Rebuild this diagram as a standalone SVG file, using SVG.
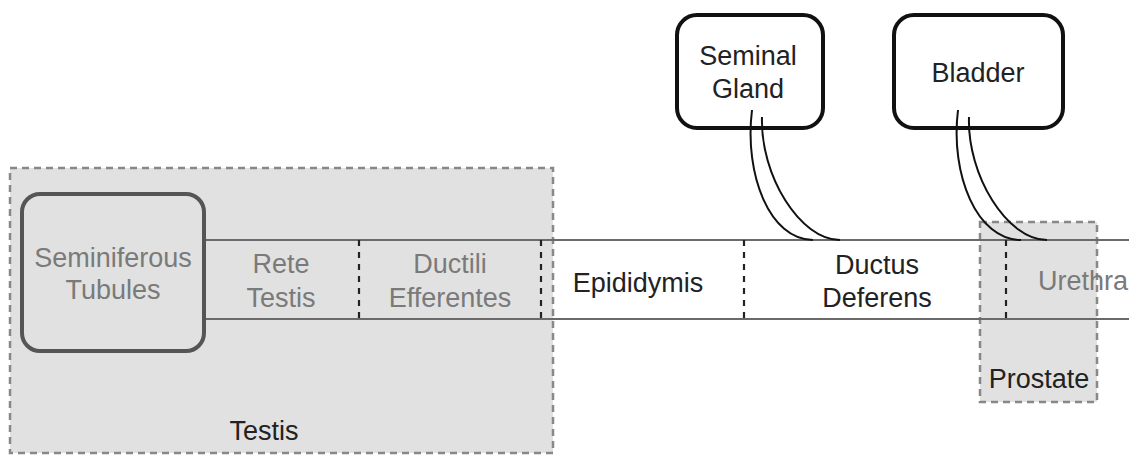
<svg xmlns="http://www.w3.org/2000/svg" width="1129" height="457" viewBox="0 0 1129 457">
<style>
text{font-family:"Liberation Sans",Arial,sans-serif;font-size:27px;text-anchor:middle}
.g{fill:#7a7a7a}
.k{fill:#222}
.region{fill:#e1e1e1;stroke:#888;stroke-width:2.5;stroke-dasharray:7 5}
.tube{stroke:#6a6a6a;stroke-width:2.2;fill:none}
.div{stroke:#222;stroke-width:2.2;stroke-dasharray:6 6;fill:none}
.duct{stroke:#111;stroke-width:2;fill:none}
.box{fill:#fff;stroke:#111;stroke-width:4}
</style>
<rect width="1129" height="457" fill="#fff"/>
<g id="testis">
<rect class="region" x="10" y="168" width="543" height="285"/>
<text class="k" x="264" y="440">Testis</text>
</g>
<g id="prostate">
<rect class="region" x="980" y="222" width="117" height="180"/>
<text class="k" x="1039" y="388">Prostate</text>
</g>
<g id="seminiferous-tubules">
<rect x="22" y="194" width="182" height="157" rx="18" fill="none" stroke="#555" stroke-width="4"/>
<text class="g" x="113" y="267">Seminiferous</text>
<text class="g" x="113" y="299">Tubules</text>
</g>
<g id="rete-testis">
<text class="g" x="281" y="273">Rete</text>
<text class="g" x="281" y="307">Testis</text>
</g>
<g id="ductili-efferentes">
<text class="g" x="450" y="273">Ductili</text>
<text class="g" x="450" y="307">Efferentes</text>
</g>
<g id="epididymis">
<text class="k" x="638" y="292">Epididymis</text>
</g>
<g id="ductus-deferens">
<text class="k" x="877" y="274">Ductus</text>
<text class="k" x="877" y="307">Deferens</text>
</g>
<g id="urethra">
<text class="g" x="1083" y="290">Urethra</text>
</g>
<g id="seminal-gland">
<rect class="box" x="677" y="15" width="146" height="113" rx="20"/>
<text class="k" x="748" y="65">Seminal</text>
<text class="k" x="748" y="98">Gland</text>
</g>
<g id="bladder">
<rect class="box" x="894" y="15" width="169" height="113" rx="20"/>
<text class="k" x="978" y="82">Bladder</text>
</g>
<g id="connectors">
<line class="tube" x1="206" y1="240" x2="1129" y2="240"/>
<line class="tube" x1="206" y1="319" x2="1129" y2="319"/>
<line class="div" x1="359" y1="240" x2="359" y2="319"/>
<line class="div" x1="541" y1="240" x2="541" y2="319"/>
<line class="div" x1="744" y1="240" x2="744" y2="319"/>
<line class="div" x1="1006" y1="240" x2="1006" y2="319"/>
<path class="duct" d="M752,110 C744,175 770,240 813,240"/>
<path class="duct" d="M762,117 C760,175 800,240 840,240"/>
<path class="duct" d="M958,110 C950,175 977,240 1021,240"/>
<path class="duct" d="M969,117 C967,175 1007,240 1047,240"/>
</g>
</svg>
